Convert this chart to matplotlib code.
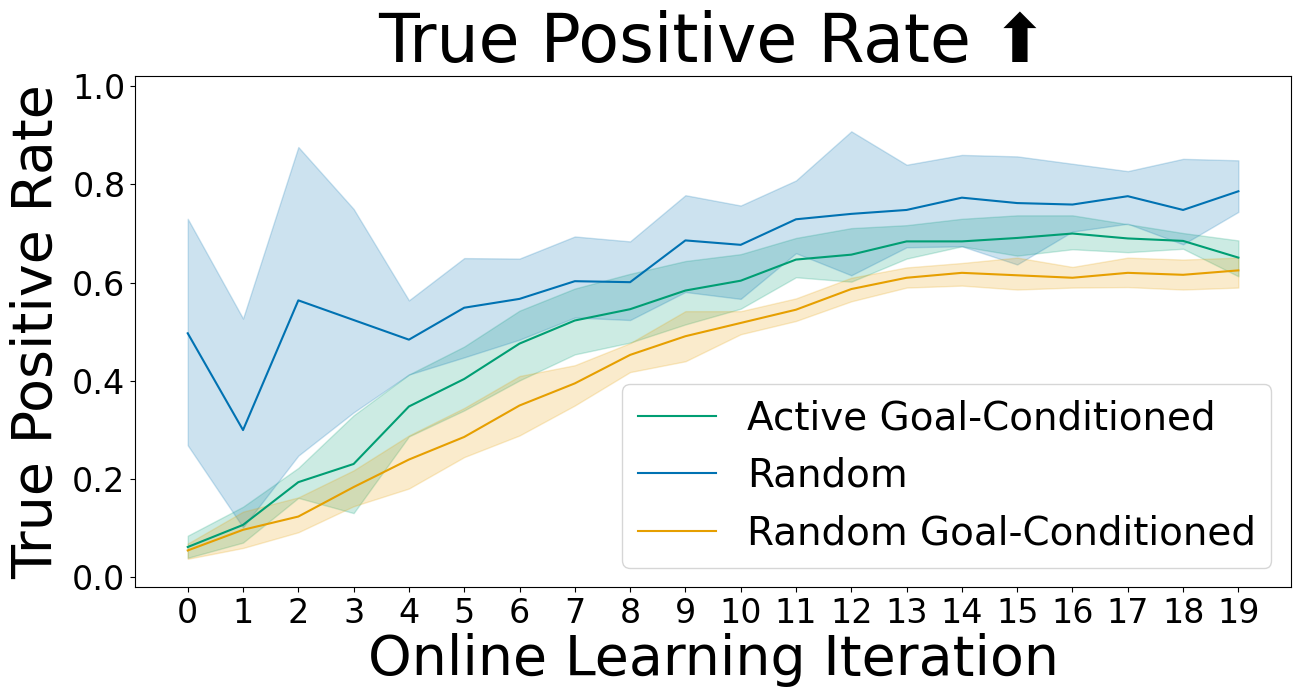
import numpy as np
import matplotlib
matplotlib.use("Agg")
import matplotlib.pyplot as plt

iterations = np.arange(20)

# Active Goal-Conditioned
active_gc_mean = [0.062, 0.107, 0.194, 0.231, 0.348, 0.404, 0.476, 0.523, 0.546, 0.584,
                  0.604, 0.647, 0.657, 0.684, 0.684, 0.691, 0.700, 0.690, 0.685, 0.651]
active_gc_hi = [0.085, 0.144, 0.223, 0.330, 0.413, 0.470, 0.543, 0.588, 0.618, 0.644,
                0.658, 0.691, 0.711, 0.717, 0.730, 0.737, 0.737, 0.719, 0.701, 0.686]
active_gc_lo = [0.040, 0.071, 0.162, 0.131, 0.287, 0.340, 0.401, 0.454, 0.478, 0.515,
                0.547, 0.611, 0.602, 0.649, 0.674, 0.655, 0.668, 0.662, 0.669, 0.613]

# Random
random_mean = [0.497, 0.300, 0.564, 0.524, 0.484, 0.549, 0.567, 0.603, 0.601, 0.686,
               0.677, 0.729, 0.740, 0.748, 0.773, 0.762, 0.759, 0.776, 0.748, 0.786]
random_hi = [0.730, 0.527, 0.876, 0.750, 0.564, 0.650, 0.649, 0.694, 0.684, 0.778,
             0.757, 0.808, 0.908, 0.840, 0.860, 0.857, 0.842, 0.827, 0.852, 0.849]
random_lo = [0.269, 0.102, 0.248, 0.336, 0.413, 0.448, 0.484, 0.529, 0.524, 0.581,
             0.567, 0.660, 0.615, 0.672, 0.674, 0.637, 0.704, 0.720, 0.678, 0.744]

# Random Goal-Conditioned
random_gc_mean = [0.055, 0.097, 0.124, 0.184, 0.240, 0.286, 0.350, 0.395, 0.453, 0.491,
                  0.518, 0.545, 0.587, 0.610, 0.620, 0.615, 0.610, 0.620, 0.616, 0.625]
random_gc_hi = [0.069, 0.134, 0.163, 0.218, 0.289, 0.345, 0.410, 0.432, 0.477, 0.542,
                0.542, 0.568, 0.610, 0.631, 0.640, 0.651, 0.632, 0.651, 0.647, 0.651]
random_gc_lo = [0.038, 0.060, 0.092, 0.145, 0.181, 0.245, 0.289, 0.350, 0.418, 0.440,
                0.495, 0.522, 0.562, 0.590, 0.594, 0.586, 0.590, 0.591, 0.586, 0.590]

series = [
    ("Active Goal-Conditioned", active_gc_mean, active_gc_lo, active_gc_hi, "#009E73"),
    ("Random", random_mean, random_lo, random_hi, "#0072B2"),
    ("Random Goal-Conditioned", random_gc_mean, random_gc_lo, random_gc_hi, "#E69F00"),
]

fig, ax = plt.subplots(figsize=(13, 7), dpi=100)
for name, mean, lo, hi, color in series:
    ax.plot(iterations, mean, color=color, linewidth=1.5, label=name)
    ax.fill_between(iterations, lo, hi, color=color, alpha=0.2)

ax.set_xticks(iterations)
ax.set_ylim(-0.02, 1.02)
ax.set_yticks([0.0, 0.2, 0.4, 0.6, 0.8, 1.0])
ax.tick_params(labelsize=24)
ax.set_title("True Positive Rate \u2b06", fontsize=48)
ax.set_xlabel("Online Learning Iteration", fontsize=40, labelpad=2)
ax.set_ylabel("True Positive Rate", fontsize=40, labelpad=6)
ax.legend(loc="lower right", fontsize=28)

plt.subplots_adjust(left=0.104, right=0.993, bottom=0.161, top=0.891)
plt.savefig("out.png")
